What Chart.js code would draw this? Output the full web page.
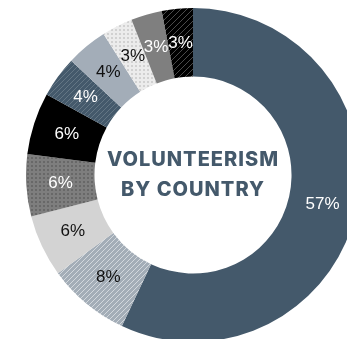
<!DOCTYPE html>
<html>
<head>
<meta charset="utf-8">
<script src="https://cdn.jsdelivr.net/npm/chart.js@4.4.1/dist/chart.umd.min.js"></script>
<style>
  html, body { margin: 0; padding: 0; background: #ffffff; overflow: hidden; width: 347px; height: 339px; }
  #wrap { position: absolute; left: 26px; top: 8px; width: 334px; height: 334px; }
</style>
</head>
<body>
<div id="wrap"><canvas id="chart" width="334" height="334"></canvas></div>
<script>
// Share of volunteers, one slice per country (percent)
const countries = ['Country A', 'Country B', 'Country C', 'Country D', 'Country E',
                   'Country F', 'Country G', 'Country H', 'Country I', 'Country J'];
const shares = [57, 8, 6, 6, 6, 4, 4, 3, 3, 3];
const sliceLabels = ['57%', '8%', '6%', '6%', '6%', '4%', '4%', '3%', '3%', '3%'];
const centerTitle = ['VOLUNTEERISM', 'BY COUNTRY'];

// Fill helpers: diagonal hatching and dot grids
function stripes(base, line, size, width) {
  const c = document.createElement('canvas');
  c.width = size; c.height = size;
  const x = c.getContext('2d');
  x.fillStyle = base; x.fillRect(0, 0, size, size);
  x.strokeStyle = line; x.lineWidth = width;
  x.beginPath();
  x.moveTo(-1, size + 1); x.lineTo(size + 1, -1);
  x.moveTo(-1, 1); x.lineTo(1, -1);
  x.moveTo(size - 1, size + 1); x.lineTo(size + 1, size - 1);
  x.stroke();
  return x.createPattern(c, 'repeat');
}
function dots(base, dot, size, r) {
  const c = document.createElement('canvas');
  c.width = size; c.height = size;
  const x = c.getContext('2d');
  x.fillStyle = base; x.fillRect(0, 0, size, size);
  x.fillStyle = dot;
  x.beginPath(); x.arc(size / 2, size / 2, r, 0, Math.PI * 2); x.fill();
  return x.createPattern(c, 'repeat');
}

const fills = [
  '#44596b',
  stripes('#a3adb7', '#dfe3e7', 5, 0.8),
  '#d3d3d3',
  dots('#7e7e7e', '#626262', 4, 1.0),
  '#000000',
  stripes('#44596b', '#72838f', 5, 0.7),
  '#a3adb8',
  dots('#ececec', '#c8c8c8', 4, 1.0),
  '#7f7f7f',
  stripes('#000000', '#5e5e5e', 6, 0.8)
];
const labelColors = ['#ffffff', '#111111', '#111111', '#ffffff', '#ffffff',
                     '#ffffff', '#111111', '#111111', '#ffffff', '#ffffff'];

// Percent labels at each arc's centroid
const sliceLabelPlugin = {
  id: 'sliceLabels',
  afterDatasetsDraw(chart) {
    const ctx = chart.ctx;
    const arcs = chart.getDatasetMeta(0).data;
    ctx.save();
    ctx.font = '17px "Liberation Sans", Arial, sans-serif';
    ctx.textAlign = 'center';
    ctx.textBaseline = 'middle';
    arcs.forEach((arc, i) => {
      const p = arc.tooltipPosition();
      ctx.fillStyle = labelColors[i];
      ctx.fillText(sliceLabels[i], p.x, p.y);
    });
    ctx.restore();
  }
};

// Title in the hole of the ring
const centerTitlePlugin = {
  id: 'centerTitle',
  afterDraw(chart) {
    const ctx = chart.ctx;
    const arc = chart.getDatasetMeta(0).data[0];
    ctx.save();
    ctx.font = '800 20px Inter, Roboto, "Liberation Sans", sans-serif';
    ctx.letterSpacing = '1px';
    ctx.fillStyle = '#44596b';
    ctx.textAlign = 'center';
    ctx.textBaseline = 'middle';
    ctx.fillText(centerTitle[0], arc.x, arc.y - 15);
    ctx.fillText(centerTitle[1], arc.x, arc.y + 15);
    ctx.restore();
  }
};

new Chart(document.getElementById('chart'), {
  type: 'doughnut',
  data: {
    labels: countries,
    datasets: [{
      data: shares,
      backgroundColor: fills,
      borderWidth: 0,
      hoverOffset: 0
    }]
  },
  options: {
    responsive: false,
    animation: false,
    cutout: '59%',
    layout: { padding: 0 },
    plugins: {
      legend: { display: false },
      tooltip: { enabled: false }
    }
  },
  plugins: [sliceLabelPlugin, centerTitlePlugin]
});
</script>
</body>
</html>
